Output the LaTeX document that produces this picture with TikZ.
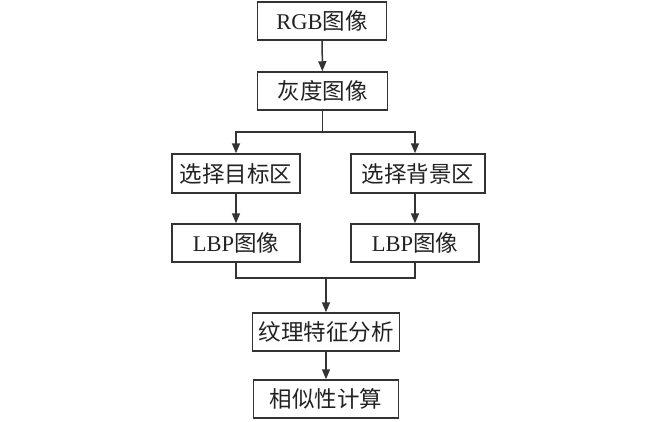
\documentclass[tikz,border=0pt]{standalone}
\usepackage{fontspec}
\setmainfont{Liberation Serif}
\newfontfamily\cjk{Noto Sans CJK SC}
\usetikzlibrary{arrows.meta}
\definecolor{ln}{HTML}{333333}
\definecolor{tx}{HTML}{222222}
\tikzset{
  box/.style={draw=ln, line width=1.5pt, minimum height=38pt, inner sep=0pt, font=\fontsize{22.5}{26}\selectfont, text=tx},
  con/.style={draw=ln, line width=1.5pt},
  arr/.style={con, -{Triangle[length=10pt,width=8pt]}}
}
\begin{document}
\begin{tikzpicture}[x=1pt,y=-1pt]
\useasboundingbox (0,0) rectangle (650,421);
\node[box, minimum width=129pt] (rgb) at (322,21) {RGB{\cjk 图像}};
\node[box, minimum width=130pt] (gray) at (322.5,91) {\cjk 灰度图像};
\node[box, minimum width=128pt, minimum height=39pt] (selL) at (236,173.5) {\cjk 选择目标区};
\node[box, minimum width=134pt, minimum height=39pt] (selR) at (418,173.5) {\cjk 选择背景区};
\node[box, minimum width=128pt] (lbpL) at (236,243) {LBP{\cjk 图像}};
\node[box, minimum width=128pt] (lbpR) at (415,243) {LBP{\cjk 图像}};
\node[box, minimum width=147pt] (tex) at (326,332) {\cjk 纹理特征分析};
\node[box, minimum width=145pt] (sim) at (326,399) {\cjk 相似性计算};
\coordinate (split) at (322.5,132);
\coordinate (merge) at (326,278);
\draw[arr] (rgb) -- (gray);
\draw[con] (gray) -- (split);
\draw[arr] (split) -| (selL);
\draw[arr] (split) -| (lbpR.north |- selR.north);
\draw[arr] (selL) -- (lbpL);
\draw[arr] (selR.south -| lbpR.north) -- (lbpR.north);
\draw[con] (lbpL) |- (merge);
\draw[con] (lbpR) |- (merge);
\draw[arr] (merge) -- (tex);
\draw[arr] (tex) -- (sim);
\end{tikzpicture}
\end{document}
